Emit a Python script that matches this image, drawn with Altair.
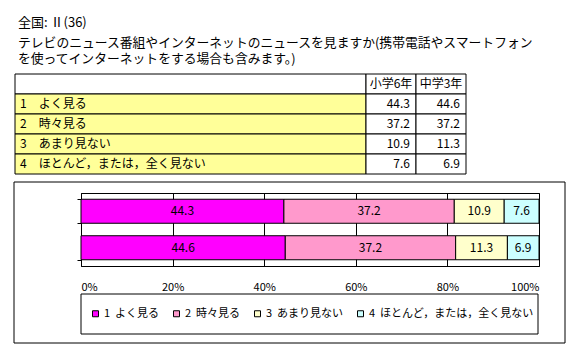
import altair as alt
import pandas as pd

FONT = "Noto Sans CJK JP"

title_line1 = "全国: Ⅱ(36)"
title_line2 = "テレビのニュース番組やインターネットのニュースを見ますか(携帯電話やスマートフォン"
title_line3 = "を使ってインターネットをする場合も含みます。)"

categories = ["1　よく見る", "2　時々見る", "3　あまり見ない", "4　ほとんど，または，全く見ない"]
groups = ["小学6年", "中学3年"]
values_g6 = [44.3, 37.2, 10.9, 7.6]
values_j3 = [44.6, 37.2, 11.3, 6.9]
colors = ["#FF00FF", "#FF99CC", "#FFFFCC", "#CCFFFF"]
x_ticks = [0, 20, 40, 60, 80, 100]

# ---- bar data
bar_rows = []
for g, vals in zip(groups, [values_g6, values_j3]):
    for i, (c, v) in enumerate(zip(categories, vals)):
        bar_rows.append({"group": g, "category": c, "value": v, "order": i, "label": f"{v:.1f}"})
bar_df = pd.DataFrame(bar_rows)

# ---- table data
row_keys = ["hdr"] + [f"r{i}" for i in range(len(categories))]
label_df = pd.DataFrame({
    "row": row_keys,
    "text": [""] + categories,
    "fill": ["#FFFFFF"] + ["#FFFF99"] * len(categories),
})
val_rows = []
for g, vals in zip(groups, [values_g6, values_j3]):
    val_rows.append({"row": "hdr", "col": g, "text": g})
    for k, v in zip(row_keys[1:], vals):
        val_rows.append({"row": k, "col": g, "text": f"{v:.1f}"})
val_df = pd.DataFrame(val_rows)

one = alt.Data(values=[{}])

# decorations
frame = alt.Chart(one).mark_rect(fillOpacity=0, stroke="black", strokeWidth=1).encode(
    x=alt.value(-67), x2=alt.value(484), y=alt.value(-11), y2=alt.value(150))
legend_box = alt.Chart(one).mark_rect(fillOpacity=0, stroke="black", strokeWidth=1).encode(
    x=alt.value(0), x2=alt.value(457), y=alt.value(101), y2=alt.value(141))


def title_text(txt, y, size=13):
    return alt.Chart(one).mark_text(text=txt, align="left", baseline="middle", fontSize=size,
                                    font=FONT, color="black").encode(x=alt.value(-63), y=alt.value(y))


t1 = title_text(title_line1, -170)
t2 = title_text(title_line2, -150, 12.8)
t3 = title_text(title_line3, -134, 12.8)

# table
ty = alt.Scale(type="band", domain=row_keys, range=[-119, -19], paddingInner=0, paddingOuter=0)
tx = alt.Scale(type="band", domain=groups, range=[285, 385], paddingInner=0, paddingOuter=0)

lab_base = alt.Chart(label_df)
lab_rect = lab_base.mark_rect(stroke="black", strokeWidth=1).encode(
    x=alt.value(-66), x2=alt.value(285),
    y=alt.Y("row:N", scale=ty, axis=None),
    fill=alt.Fill("fill:N", scale=None))
lab_text = lab_base.mark_text(align="left", baseline="middle", fontSize=12, font=FONT, color="black").encode(
    x=alt.value(-61), y=alt.Y("row:N", scale=ty, axis=None), text="text:N")

val_base = alt.Chart(val_df)
val_rect = val_base.mark_rect(stroke="black", strokeWidth=1, fill="white").encode(
    x=alt.X("col:N", scale=tx, axis=None), y=alt.Y("row:N", scale=ty, axis=None))
val_hdr = val_base.transform_filter("datum.row == 'hdr'").mark_text(
    align="center", baseline="middle", fontSize=12, font=FONT, color="black").encode(
    x=alt.X("col:N", scale=tx, axis=None), y=alt.Y("row:N", scale=ty, axis=None), text="text:N")
val_num = val_base.transform_filter("datum.row != 'hdr'").mark_text(
    align="right", baseline="middle", fontSize=12, font=FONT, color="black", dx=-6).encode(
    x=alt.X("col:N", scale=tx, axis=None, bandPosition=1), y=alt.Y("row:N", scale=ty, axis=None),
    text="text:N")

# bars
xs = alt.Scale(domain=[0, 100], nice=False, range=[0, 458])
yband = alt.Scale(type="band", domain=groups, paddingInner=0.342, paddingOuter=0.171, range=[0, 73])
base = alt.Chart(bar_df)
bars = base.mark_bar(stroke="black", strokeWidth=1).encode(
    x=alt.X("value:Q", stack="zero", scale=xs,
            axis=alt.Axis(orient="bottom", values=x_ticks, labelExpr="datum.value + '%'", grid=True,
                          gridColor="black", gridOpacity=1, domain=False, ticks=False,
                          labelPadding=15, labelFontSize=11, labelColor="black", title=None)),
    y=alt.Y("group:N", sort=groups, scale=yband,
            axis=alt.Axis(orient="left", labels=False, title=None, tickBand="extent", ticks=True,
                          tickSize=4, tickColor="black", domain=True, domainColor="black", grid=False)),
    color=alt.Color("category:N", sort=categories, scale=alt.Scale(domain=categories, range=colors),
                    legend=alt.Legend(orient="none", legendX=9, legendY=115, direction="horizontal",
                                      title=None, symbolType="square", symbolSize=36,
                                      symbolStrokeColor="black", symbolStrokeWidth=1,
                                      labelFontSize=11, labelFont=FONT, labelColor="black",
                                      labelExpr="replace(datum.label, '\u3000', '\u00a0\u00a0')",
                                      columnPadding=11, labelOffset=3, padding=0, labelLimit=0)),
    order=alt.Order("order:Q"),
)
bar_text = base.transform_stack(
    stack="value", groupby=["group"], as_=["x0", "x1"], sort=[alt.SortField("order")]
).transform_calculate(mid="(datum.x0 + datum.x1) / 2").mark_text(
    fontSize=12, font=FONT, color="black", baseline="middle").encode(
    x=alt.X("mid:Q", scale=xs, axis=None),
    y=alt.Y("group:N", sort=groups, scale=yband, axis=None),
    text="label:N")

chart = alt.layer(
    frame, legend_box, t1, t2, t3, lab_rect, lab_text, val_rect, val_hdr, val_num, bars, bar_text
).resolve_scale(
    x="independent", y="independent"
).properties(
    width=458, height=73,
    autosize=alt.AutoSizeParams(type="none"),
    padding={"left": 81, "top": 193, "right": 42, "bottom": 85},
).configure(font=FONT, background="white").configure_view(stroke="black", strokeWidth=1)

chart.save("out.html", embed_options={"renderer": "svg", "actions": False})
